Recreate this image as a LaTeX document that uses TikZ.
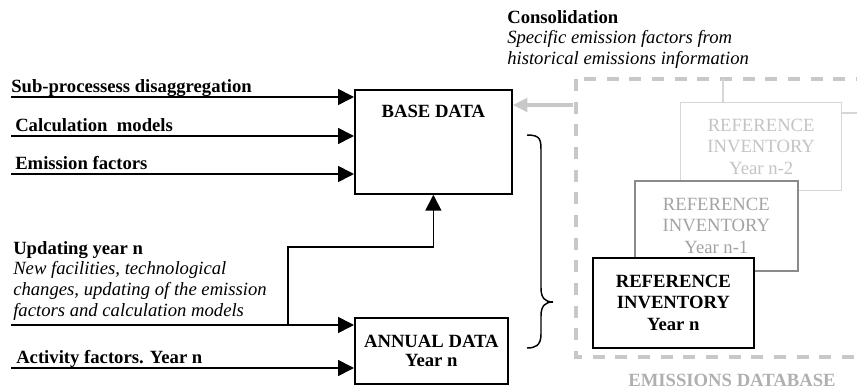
\documentclass[tikz,border=0pt]{standalone}
\usepackage{fontspec}
\setmainfont{Liberation Serif}
\usepackage{tikz}
\usetikzlibrary{positioning,arrows.meta,calc}
\definecolor{cInk}{HTML}{000000}
\definecolor{cOld}{HTML}{D6D6D6}
\definecolor{cOldTxt}{HTML}{C4C4C4}
\definecolor{cMid}{HTML}{8A8A8A}
\definecolor{cMidTxt}{HTML}{A3A3A3}
\definecolor{cDb}{HTML}{C8C8C8}
\definecolor{cDbTxt}{HTML}{B0B0B0}
\tikzset{
  fig/txt/.style   ={font=\fontsize{14}{15.5}\selectfont, inner sep=0pt, text=cInk},
  fig/input/.style ={fig/txt, font=\fontsize{14}{15.5}\selectfont\bfseries, anchor=base west},
  fig/box/.style   ={draw=cInk, line width=1.3pt, fill=white, inner sep=0pt,
                     anchor=north west, align=center},
  fig/boxtxt/.style={fig/txt, font=\fontsize{14}{14}\selectfont\bfseries, align=center},
  fig/inv/.style   ={fig/box, minimum width=120.75pt, minimum height=67.5pt,
                     font=\fontsize{14}{16}\selectfont},
  fig/arr/.style   ={-{Triangle[length=12pt, width=12pt]}, line width=1.2pt, cInk},
  fig/arrdb/.style ={-{Triangle[length=11pt, width=10pt]}, line width=3.5pt, cDb},
  fig/dbframe/.style={cDb, line width=2.4pt, dash pattern=on 9pt off 8pt},
  fig/link/.style  ={line width=1pt}
}
\begin{document}
\begin{tikzpicture}[x=0.75pt, y=-0.75pt]
    \clip (0,0) rectangle (857,391);
    % emissions database frame (runs past the right edge)
    \draw[fig/dbframe] (576,79) rectangle (920,357);
    \node[fig/txt, font=\fontsize{14}{15.5}\selectfont\bfseries, text=cDbTxt] (dbtitle) at (732,380) {EMISSIONS DATABASE};
    % reference inventories, oldest at the back
    \node[fig/inv, draw=cOld, line width=1pt, text=cOldTxt, minimum height=66pt] (inv2) at (680,102)
         {REFERENCE\\INVENTORY\\Year n-2};
    \node[fig/inv, draw=cMid, text=cMidTxt, minimum width=122.25pt] (inv1) at (634,180)
         {REFERENCE\\INVENTORY\\Year n-1};
    \node[fig/inv, font=\fontsize{14}{16}\selectfont\bfseries] (inv0) at (592,257)
         {REFERENCE\\INVENTORY\\Year n};
    \coordinate (dbtop) at (723,79);
    \coordinate (dbright) at (880,113);
    \draw[fig/link, cOld] (dbtop) -- (inv2.north -| dbtop);
    \draw[fig/link, cOld] (inv2.east |- dbright) -- (dbright);
    % data blocks
    \node[fig/box, minimum width=117.75pt, minimum height=78pt] (base) at (354,89) {};
    \node[fig/boxtxt, anchor=north, yshift=-12pt] (basetxt) at (base.north) {BASE DATA};
    \node[fig/box, fig/boxtxt, draw=cInk, minimum width=114.75pt, minimum height=49.5pt, anchor=north west] (annual) at (354,317)
         {ANNUAL DATA\\Year n};
    % consolidation feeds back into base data
    \coordinate (dbin) at (573,105);
    \draw[fig/arrdb] (dbin) -- (base.east |- dbin);
    \node[fig/txt, anchor=north west, align=left] (cons) at (507,10)
         {\textbf{Consolidation}\\\textit{Specific emission factors from}\\\textit{historical emissions information}};
    % inputs to base data
    \foreach \y/\txt/\nm/\xo in {97/Sub-processess disaggregation/sub/11,
                                 136/Calculation\ \ models/calc/15,
                                 174/Emission factors/ef/15} {
      \coordinate (\nm) at (11,\y);
      \node[fig/input] (\nm-txt) at (\xo,\y-4) {\txt};
      \draw[fig/arr] (\nm) -- (base.west |- \nm);
    }
    % inputs to annual data
    \coordinate (upd) at (11,325);
    \coordinate (act) at (11,368);
    \node[fig/txt, anchor=north west, align=left] (updtxt) at (13,241)
         {\textbf{Updating year n}\\\textit{New facilities, technological}\\
          \textit{changes, updating of the emission}\\\textit{factors and calculation models}};
    \node[fig/input] (acttxt) at (16,364) {Activity factors. Year n};
    \draw[fig/arr] (upd) -- (annual.west |- upd);
    \draw[fig/arr] (act) -- (annual.west |- act);
    % updating branch up to base data
    \coordinate (split) at (288,325);
    \coordinate (knee) at (288,247);
    \draw[fig/arr] (split) -- (knee) -| (base.south);
    % brace grouping both blocks
    \draw[line width=1.1pt] (527,135) .. controls (541,135) and (541,140) .. (541,152)
         -- (541,288) .. controls (541,298) and (545,302) .. (553,302)
         .. controls (545,302) and (541,306) .. (541,316)
         -- (541,334) .. controls (541,346) and (535,348) .. (527,348);
\end{tikzpicture}
\end{document}
